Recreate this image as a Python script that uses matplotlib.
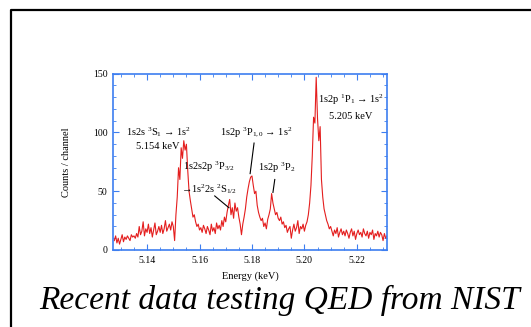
import numpy as np
import matplotlib
matplotlib.use('Agg')
import matplotlib.pyplot as plt
from matplotlib.ticker import MultipleLocator

plt.rcParams['font.family'] = ['Liberation Serif', 'DejaVu Serif']
plt.rcParams['mathtext.fontset'] = 'custom'
plt.rcParams['mathtext.rm'] = 'Liberation Serif'
plt.rcParams['mathtext.it'] = 'Liberation Serif:italic'

# channel calibration (keV)
E0 = 5.1275
STEP = 0.0005

# counts per channel
counts_a = [8, 12, 6, 10, 5, 9, 13, 7, 11, 9, 12, 10, 8, 13, 11,
            12, 10, 14, 11, 20, 13, 16, 24, 12, 18, 15, 22, 14, 19, 11, 17, 23, 13, 16, 20,
            15, 21, 14, 18, 25, 16, 19, 22, 17, 24, 20, 8]
counts_b = [30, 45, 70, 60, 87, 78, 93, 85, 90, 68, 50, 42, 35, 28, 30, 24, 20, 22, 17]
counts_c = [19, 15, 21, 18, 14, 20, 17, 13, 22, 16, 19, 14, 23, 18, 21, 17]
counts_d = [25, 20, 28, 24, 32, 38, 43, 30, 36, 27, 40, 33, 36, 28, 22, 13]
counts_e = [22, 28, 35, 45, 52, 58, 62, 63, 55, 48,
            50, 38, 32, 28, 25, 27, 20, 23, 18, 26,
            30, 35, 48, 40, 35, 30, 32, 27, 25, 28,
            22, 24, 19, 21, 15, 18, 20, 10, 17, 22,
            16, 19, 25, 14, 20, 18, 22, 16, 21, 24,
            30, 40, 55, 80, 113, 108, 147, 112, 93, 105,
            60, 45, 35, 30, 25, 22, 18, 20]
counts_f = [16, 12, 17, 14, 19, 11, 15, 18, 13, 16,
            12, 17, 14, 10, 15, 18, 12, 16, 9, 14,
            17, 13, 15, 11, 18, 14, 12, 16, 10, 15,
            13, 17, 9, 14, 12, 16, 11, 15, 13, 8,
            14, 10, 12]

counts = np.array(counts_a + counts_b + counts_c + counts_d + counts_e + counts_f)
energy = E0 + STEP * np.arange(len(counts))

blue = '#3d7ef0'

fig = plt.figure(figsize=(5.31, 3.27), dpi=100)
ax = fig.add_axes([0.2128, 0.2355, 0.516, 0.539])
ax.plot(energy, counts, color='#e41e1e', lw=0.8)

ax.set_xlim(5.127, 5.2315)
ax.set_ylim(0, 150)
ax.xaxis.set_minor_locator(MultipleLocator(0.005))
ax.yaxis.set_major_locator(MultipleLocator(50))
ax.yaxis.set_minor_locator(MultipleLocator(10))
ax.set_xticks([5.14, 5.16, 5.18, 5.20, 5.22])
ax.set_xticklabels(['5.14', '5.16', '5.18', '5.20', '5.22'])
ax.tick_params(which='both', direction='in', top=True, right=True, color=blue,
               labelsize=7, pad=4)
ax.tick_params(which='major', length=4, width=0.8)
ax.tick_params(which='minor', length=2, width=0.6)
for s in ax.spines.values():
    s.set_color(blue)
    s.set_linewidth(1.2)

ax.set_xlabel('Energy (keV)', fontsize=7.5, labelpad=5)
ax.set_ylabel('Counts / channel', fontsize=7.5, labelpad=16)

fs = 7.5
ax.text(5.1445, 100, r'1s2s $^3$S$_1$ → 1s$^2$', fontsize=fs, ha='center', va='center')
ax.text(5.1442, 88, '5.154 keV', fontsize=fs, ha='center', va='center')
ax.text(5.1815, 100, r'1s2p $^3$P$_{1,0}$ → 1s$^2$', fontsize=fs, ha='center', va='center')
ax.plot([5.1808, 5.1793], [91, 65], color='k', lw=0.8)
ax.text(5.1636, 71, r'1s2s2p $^3$P$_{3/2}$', fontsize=fs, ha='center', va='center')
ax.text(5.1636, 52, r'→1s$^2$2s $^2$S$_{1/2}$', fontsize=fs, ha='center', va='center')
ax.plot([5.1658, 5.1712], [46, 36], color='k', lw=0.8)
ax.text(5.1895, 70, r'1s2p $^3$P$_2$', fontsize=fs, ha='center', va='center')
ax.plot([5.1887, 5.1880], [60, 49], color='k', lw=0.8)
ax.text(5.2178, 128, r'1s2p $^1$P$_1$ → 1s$^2$', fontsize=fs, ha='center', va='center')
ax.text(5.2178, 114, '5.205 keV', fontsize=fs, ha='center', va='center')

# slide frame
fig.add_artist(plt.Line2D([11/531, 11/531, 1.0], [0.0, 1-10/327, 1-10/327],
                          transform=fig.transFigure, color='k', lw=1.6))

fig.text(280/531, 1-300/327, 'Recent data testing QED from NIST', fontsize=24,
         style='italic', ha='center', va='center')

fig.savefig('out.png', dpi=100)
